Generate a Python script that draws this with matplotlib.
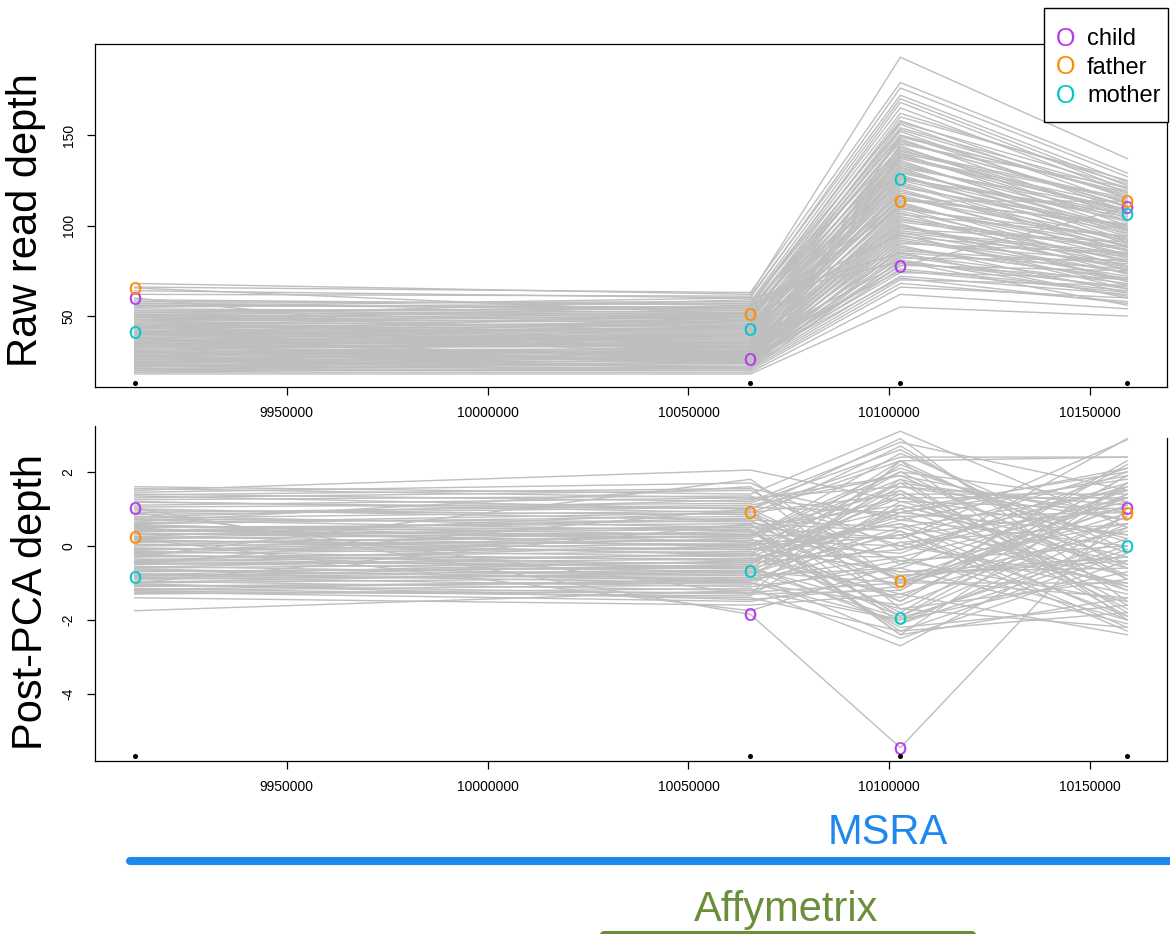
import matplotlib
matplotlib.use("Agg")
import matplotlib.pyplot as plt
import numpy as np
from matplotlib.patches import Rectangle

plt.rcParams['font.family'] = ['Liberation Sans', 'DejaVu Sans']

# ---------------- data ----------------
positions = [9912189, 10065423, 10102736, 10159204]
xticks = [9950000, 10000000, 10050000, 10100000, 10150000]
raw_yticks = [50, 100, 150]
pca_yticks = [-4, -2, 0, 2]

# background samples, raw read depth (one row per sample, value at each position)
raw_background = """
68 62 193 137
66 63 179 129
64 60 176 127
62 61 172 124
57 58 170 122
56 55 168 120
55 57 165 118
54 52 160 125
53 54 158 115
52 50 156 112
51 53 154 119
50 49 152 108
49 51 150 110
48 47 148 104
47 50 146 113
46 45 144 100
45 48 142 106
45 44 140 98
44 46 138 111
43 42 136 95
42 45 134 102
42 41 132 92
41 43 130 99
40 39 128 90
40 42 126 105
39 38 124 88
38 40 122 96
38 37 120 86
37 39 118 93
36 35 116 84
36 38 114 101
35 34 112 82
34 36 110 89
34 33 108 80
33 35 106 94
32 31 104 78
32 34 102 87
31 30 100 76
30 32 98 91
30 29 96 74
29 31 94 83
28 28 92 72
28 30 90 85
27 27 88 70
26 29 86 79
26 26 84 68
25 28 82 81
24 25 80 66
24 27 78 75
23 24 76 64
22 26 74 71
22 23 72 62
21 22 70 67
20 21 68 58
20 20 66 60
19 19 62 54
18 18 55 50
23 21 150 117
25 22 145 121
21 20 138 108
50 59 85 60
55 60 80 56
47 56 95 65
40 52 110 75
35 50 127 98
30 45 100 70
38 25 140 114
44 28 132 109
27 40 115 100
33 48 96 84
59 56 162 123
58 57 157 121
57 53 153 116
56 54 149 118
53 51 147 111
52 55 143 107
51 48 141 115
50 52 139 103
49 46 137 109
48 50 135 97
47 44 133 106
46 49 131 94
44 43 129 103
43 47 127 91
41 40 125 97
40 44 123 86
39 41 121 100
37 36 119 89
36 40 117 83
35 37 115 92
33 33 113 77
32 36 111 86
31 32 109 94
29 30 107 73
28 33 105 81
27 29 103 88
26 31 101 69
25 27 99 77
24 30 97 85
23 26 95 67
22 28 93 74
21 24 91 80
20 25 89 63
19 22 87 71
45 30 85 76
34 24 83 65
28 21 81 61
42 35 79 70
37 32 75 63
30 26 71 57
"""

# background samples, post-PCA depth
pca_background = """
1.6 1.4 3.1 0.5
1.5 2.05 1.2 -0.3
1.4 1.2 2.8 1.5
1.3 1.5 -0.5 2.9
1.2 0.9 2.3 2.4
1.1 1.3 0.8 -1.2
1.0 0.7 -1.5 1.9
0.9 1.1 1.9 -0.8
0.8 0.5 0.2 2.1
0.75 0.95 -2.1 0.6
0.7 0.4 1.5 -1.9
0.6 0.8 -0.9 1.3
0.55 0.3 2.1 0.1
0.5 0.6 0.4 -2.2
0.45 0.2 -1.8 1.7
0.4 0.5 1.1 -0.5
0.35 0.1 -0.2 2.0
0.3 0.45 -2.4 -1.4
0.25 0.0 1.7 0.9
0.2 0.35 -1.1 1.1
0.15 -0.1 0.6 -2.0
0.1 0.25 2.5 -0.1
0.05 -0.2 -1.4 1.6
0.0 0.15 0.0 -1.0
-0.05 -0.3 1.3 0.3
-0.1 0.05 -2.2 -1.6
-0.15 -0.4 0.9 1.8
-0.2 -0.05 -0.7 -0.6
-0.25 -0.5 1.6 0.7
-0.3 -0.15 -1.9 1.4
-0.35 -0.6 0.3 -2.3
-0.4 -0.25 2.0 -0.9
-0.45 -0.7 -1.0 0.4
-0.5 -0.35 0.7 1.9
-0.55 -0.8 -2.5 -0.4
-0.6 -0.45 1.4 -1.7
-0.65 -0.9 -0.3 1.2
-0.7 -0.55 1.0 -1.1
-0.75 -1.0 -1.6 0.8
-0.8 -0.65 2.2 -0.2
-0.85 -1.1 -0.6 -2.1
-0.9 -0.75 0.5 1.5
-0.95 -1.2 -2.0 -0.7
-1.0 -0.85 1.8 0.2
-1.05 -1.3 -1.2 2.2
-1.1 -0.95 0.1 -1.3
-1.15 -1.4 -2.3 -1.8
-1.2 -1.05 1.2 1.0
-1.25 -1.5 -0.8 -0.3
-1.3 -1.15 -2.7 0.5
-1.4 -1.6 -1.3 -2.4
-1.75 -1.2 -0.4 0.0
1.45 1.7 -0.1 1.3
1.35 1.0 2.9 -1.5
0.65 1.6 -1.7 -0.9
-0.5 1.0 2.4 2.4
0.2 -1.75 -0.5 0.6
-0.3 1.8 -1.0 -1.0
0.9 -1.3 2.3 -2.0
-1.0 0.6 -2.4 1.7
0.4 0.3 0.2 2.87
1.55 1.3 1.6 1.1
1.25 1.35 0.0 1.6
1.05 1.15 2.6 -0.6
0.95 0.85 -1.2 2.3
0.85 1.05 0.9 0.3
0.72 0.65 -0.4 -1.5
0.62 0.9 1.4 1.4
0.52 0.45 -1.9 0.8
0.42 0.7 0.5 -1.1
0.32 0.25 2.0 1.2
0.22 0.55 -0.8 -0.4
0.12 0.05 1.0 2.0
0.02 0.4 -2.3 -0.2
-0.08 -0.1 0.3 1.0
-0.18 0.2 1.8 -1.8
-0.28 -0.35 -1.3 0.5
-0.38 0.0 0.6 -0.8
-0.48 -0.45 -0.1 1.7
-0.58 -0.2 2.3 -0.5
-0.68 -0.6 -1.7 -2.2
-0.78 -0.4 0.8 0.9
-0.88 -0.8 -0.6 1.5
-0.98 -0.7 1.5 -1.2
-1.08 -1.0 -2.0 0.2
-1.18 -0.9 0.4 -1.9
-1.28 -1.25 -1.0 1.1
-1.22 -1.35 1.1 -0.6
1.38 1.55 0.7 0.0
1.18 1.0 -0.9 -1.4
0.78 1.25 1.9 0.7
0.58 0.1 -1.5 1.9
0.38 0.75 2.7 -0.9
0.18 -0.25 -0.3 -2.0
-0.12 0.3 1.3 1.3
-0.42 -0.55 -2.1 -0.1
-0.62 -0.95 0.1 0.6
-0.82 -0.5 1.7 -1.6
-1.02 -1.45 -1.1 1.4
-0.22 -0.75 0.9 2.1
0.48 -0.05 -0.7 -0.3
"""

trio_labels = ["child", "father", "mother"]
trio_colors = ["#B23AEE", "#FF8C00", "#00C8C8"]
raw_trio = {"child": [60, 26, 77.5, 110],
            "father": [65.5, 51, 113.5, 113.5],
            "mother": [41, 43, 125.5, 106.5]}
pca_trio = {"child": [1.02, -1.85, -5.45, 1.02],
            "father": [0.25, 0.92, -0.95, 0.88],
            "mother": [-0.85, -0.68, -1.95, 0.0]}
raw_dot_level = 13.0
pca_dot_level = -5.68

tracks = [("MSRA", 9911000, 10180000, "#1E88EE"),
          ("Affymetrix", 10028900, 10120600, "#6B8E3A")]
track_label_x = [10099500, 10074400]


def parse(block):
    return np.array([[float(v) for v in line.split()]
                     for line in block.strip().splitlines()])


raw_bg = parse(raw_background)
pca_bg = parse(pca_background)

# ---------------- figure ----------------
W, H = 1170, 934
fig = plt.figure(figsize=(W / 100, H / 100), dpi=100)


def fx(px):
    return px / W


def fy(py):
    return 1 - py / H


ax1 = fig.add_axes([fx(95), fy(387), fx(1167 - 95), (387 - 44) / H])
ax2 = fig.add_axes([fx(95), fy(761), fx(1167 - 95), (761 - 426) / H])
xlim = (9902300, 10169100)

gray = "#BEBEBE"


def draw_panel(ax, bg, trio, dot_level, ylim, yticks):
    for row in bg:
        ax.plot(positions, row, color=gray, lw=1.0, zorder=1)
    for lab in trio_labels:
        ax.plot(positions, trio[lab], color=gray, lw=1.0, zorder=1)
    for lab, col in zip(trio_labels, trio_colors):
        ax.plot(positions, trio[lab], linestyle="none", marker=r"$\mathsf{O}$",
                markersize=9, color=col, markeredgewidth=0.3, zorder=3)
    ax.plot(positions, [dot_level] * len(positions), linestyle="none",
            marker="o", markersize=2.6, color="black", zorder=3)
    ax.set_xlim(*xlim)
    ax.set_ylim(*ylim)
    ax.set_xticks(xticks)
    ax.set_xticklabels([str(t) for t in xticks], fontsize=10)
    ax.set_yticks(yticks)
    ax.set_yticklabels([str(t) for t in yticks], fontsize=10, rotation=90,
                       va="center")
    ax.tick_params(direction="out", length=6, width=0.9, pad=8)
    for sp in ax.spines.values():
        sp.set_linewidth(0.9)


draw_panel(ax1, raw_bg, raw_trio, raw_dot_level, (10.8, 200.3), raw_yticks)
draw_panel(ax2, pca_bg, pca_trio, pca_dot_level, (-5.81, 3.24), pca_yticks)
ax2.spines["top"].set_visible(False)
ax2.spines["right"].set_bounds(-5.81, 2.92)

fig.text(fx(26), fy(220), "Raw read depth", rotation=90, fontsize=30,
         ha="center", va="center")
fig.text(fx(31), fy(602), "Post-PCA depth", rotation=90, fontsize=30,
         ha="center", va="center")

# ---------------- tracks ----------------
ax3 = fig.add_axes([fx(95), 0, fx(1167 - 95), 180 / H])
ax3.set_xlim(*xlim)
ax3.set_ylim(0, 180)
ax3.axis("off")
track_y = [73, -1]
label_y = [101, 24]
for (name, x0, x1, col), lx, ly, ty in zip(tracks, track_label_x, track_y, label_y):
    ax3.plot([x0, x1], [ly, ly], color=col, lw=5.8, solid_capstyle="round",
             clip_on=False)
    ax3.text(lx, ty, name, color=col, fontsize=30, ha="center", va="center",
             clip_on=False)

# ---------------- legend ----------------
fig.patches.append(Rectangle((fx(1044), fy(122)), fx(1168 - 1044), (122 - 8) / H,
                             transform=fig.transFigure, facecolor="white",
                             edgecolor="black", lw=1.0, zorder=5))
for i, (lab, col) in enumerate(zip(trio_labels, trio_colors)):
    yy = fy(39 + 28.5 * i)
    fig.text(fx(1066), yy, "O", color=col, fontsize=18, ha="center",
             va="center", zorder=6)
    fig.text(fx(1087), yy, lab, color="black", fontsize=17, ha="left",
             va="center", zorder=6)

fig.savefig("out.png", dpi=100)
